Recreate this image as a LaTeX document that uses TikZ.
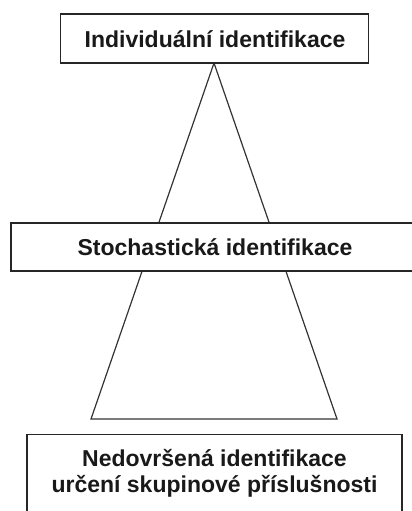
\documentclass[tikz,border=0pt]{standalone}
\usepackage{fontspec}
\setmainfont{Liberation Sans}
\begin{document}
\begin{tikzpicture}[x=1pt,y=-1pt,
  box/.style={draw=black!85, line width=1.4pt, fill=white, inner sep=0pt},
  lbl/.style={font=\bfseries\fontsize{23}{26}\selectfont, text=black!90, inner sep=0pt, anchor=base},
  tri/.style={draw=black!80, line width=1.2pt, line join=miter}]
\useasboundingbox (0,0) rectangle (412,511);
\clip (0,0) rectangle (412,511);
\coordinate (apex) at (214,63);
\coordinate (bl) at (91,419);
\coordinate (br) at (337,419);
\draw[tri] (apex) -- (bl) -- (br) -- cycle;
\node[box, minimum width=308pt, minimum height=49pt] (top) at (214.5,38.5) {};
\node[lbl] (toptext) at (215,47.3) {Individuální identifikace};
\node[box, minimum width=410pt, minimum height=48pt] (mid) at (216,247) {};
\node[lbl] (midtext) at (215,255) {Stochastická identifikace};
\node[box, minimum width=375pt, minimum height=100pt, anchor=north] (bot) at (214.5,434) {};
\node[lbl] (bottexta) at (214.5,466.3) {Nedovršená identifikace};
\node[lbl] (bottextb) at (214.5,492.3) {určení skupinové příslušnosti};
\end{tikzpicture}
\end{document}
